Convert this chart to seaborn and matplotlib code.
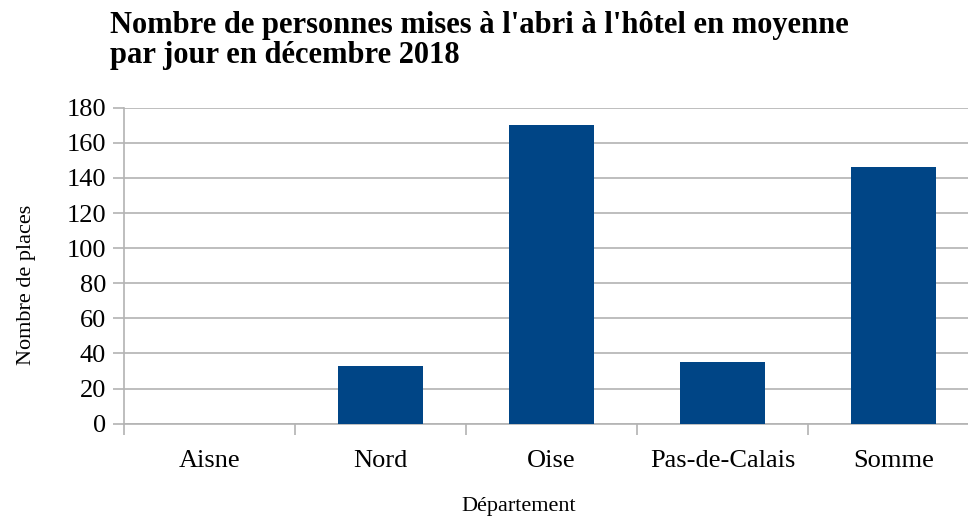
import matplotlib
matplotlib.use("Agg")
import matplotlib.pyplot as plt
import numpy as np
import pandas as pd
import seaborn as sns

# Data
departements = ['Aisne', 'Nord', 'Oise', 'Pas-de-Calais', 'Somme']
places = [0, 33, 170, 35, 146]

title = "Nombre de personnes mises à l'abri à l'hôtel en moyenne\npar jour en décembre 2018"
y_ticks = [0, 20, 40, 60, 80, 100, 120, 140, 160, 180]

df = pd.DataFrame({'Département': departements, 'Nombre de places': places})

sns.set_theme(style="white")
plt.rcParams['font.family'] = ['Liberation Serif', 'DejaVu Serif']
plt.rcParams['text.color'] = 'black'
plt.rcParams['axes.labelcolor'] = 'black'
plt.rcParams['xtick.labelcolor'] = 'black'
plt.rcParams['ytick.labelcolor'] = 'black'

grey = "#b3b3b3"
fig = plt.figure(figsize=(9.68, 5.18), dpi=100)
ax = fig.add_axes([124 / 968, 1 - 423.7 / 518, 1 - 124 / 968, 316 / 518])

sns.barplot(data=df, x='Département', y='Nombre de places', order=departements,
            color="#004586", width=0.5, saturation=1, linewidth=0, ax=ax, zorder=3)

ax.set_yticks(y_ticks)
# tick marks at category boundaries
ax.set_xticks(np.arange(-0.5, len(departements), 1.0), minor=True)
ax.set_ylim(0, 180)
ax.set_xlim(-0.5, -0.5 + (968 - 124) / 171)
ax.yaxis.grid(True, color=grey, linewidth=1.2, zorder=0)
ax.set_axisbelow(True)

ax.tick_params(axis='x', which='major', length=0, pad=19, labelsize=19)
ax.tick_params(axis='x', which='minor', length=8, width=1.2, color=grey, direction='out', bottom=True)
ax.tick_params(axis='y', length=8, width=1.2, color=grey, direction='out', left=True, pad=5, labelsize=19)

for side in ['top', 'right']:
    ax.spines[side].set_visible(False)
for side in ['left', 'bottom']:
    ax.spines[side].set_color(grey)
    ax.spines[side].set_linewidth(1.2)

ax.set_xlabel('Département', fontsize=16)
ax.set_ylabel('Nombre de places', fontsize=16)
ax.xaxis.set_label_coords(0.468, -0.233)
ax.yaxis.set_label_coords(-0.104, 0.44)

fig.text(110 / 968, 1 - 11 / 518, title, ha='left', va='top', fontsize=22,
         fontweight='bold', linespacing=1.05)

fig.savefig("out.png", dpi=100)
